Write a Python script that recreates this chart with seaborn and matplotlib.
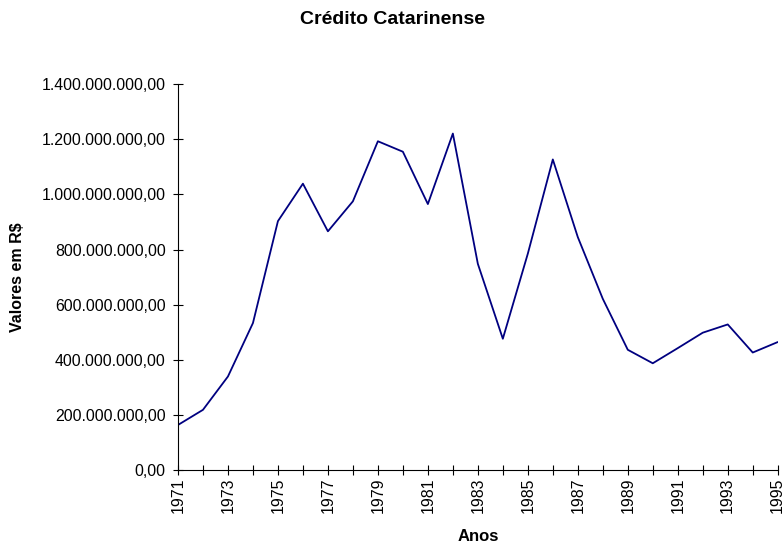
import matplotlib

matplotlib.use("Agg")
import matplotlib.pyplot as plt
import pandas
import seaborn as sns
from matplotlib.ticker import FuncFormatter, MultipleLocator
from pandas import DataFrame

years: list[int] = list(range(1971, 1996))
valores: list[float] = [
    163e6, 218e6, 339e6, 533e6, 903e6, 1039e6, 866e6, 975e6, 1193e6,
    1155e6, 965e6, 1221e6, 748e6, 476e6, 785e6, 1127e6, 845e6, 621e6,
    436e6, 387e6, 442e6, 498e6, 528e6, 426e6, 464e6,
]
year_labels: list[str] = [str(y) for y in range(1971, 1996, 2)]


def br_format(v: float, pos: int) -> str:
    # 1,400,000,000.00 -> 1.400.000.000,00
    s: str = f"{v:,.2f}"
    return s.replace(",", "X").replace(".", ",").replace("X", ".")


def plot(df: DataFrame) -> None:
    sns.set_style("ticks")
    plt.rcParams["font.family"] = ["Liberation Sans", "DejaVu Sans"]
    plt.rcParams["text.color"] = "black"
    plt.rcParams["axes.labelcolor"] = "black"

    fig = plt.figure(figsize=(7.84, 5.47), dpi=100)
    ax = fig.add_axes([0.227, 0.141, 0.765, 0.705])

    sns.lineplot(data=df, x="ano", y="valor", ax=ax, color="#000080", linewidth=1.3)

    ax.set_xlim(1971, 1995)
    ax.set_ylim(0, 1.4e9)
    ax.yaxis.set_major_locator(MultipleLocator(2e8))
    ax.yaxis.set_major_formatter(FuncFormatter(br_format))
    ax.set_xticks(years)
    ax.set_xticklabels([str(y) if str(y) in year_labels else "" for y in years], rotation=90)

    ax.tick_params(direction="inout", length=7.5, width=0.8, labelsize=11.4, colors="black")
    ax.tick_params(axis="y", pad=5)
    ax.tick_params(axis="x", pad=2)
    ax.spines["top"].set_visible(False)
    ax.spines["right"].set_visible(False)
    for s in ("left", "bottom"):
        ax.spines[s].set_color("black")
        ax.spines[s].set_linewidth(0.8)

    fig.text(0.5, 1 - 20 / 547, "Crédito Catarinense", ha="center", va="center",
             fontsize=14, fontweight="bold", color="black")
    ax.set_xlabel("Anos", fontsize=12, fontweight="bold")
    ax.set_ylabel("Valores em R$", fontsize=11.5, fontweight="bold")
    ax.xaxis.set_label_coords(0.5, -0.174)
    ax.yaxis.set_label_coords(-0.268, 0.5)
    ax.xaxis.label.set_va("center")
    ax.yaxis.label.set_va("center")

    fig.savefig("out.png", dpi=100)
    plt.close(fig)


def main() -> None:
    df: DataFrame = pandas.DataFrame({"ano": years, "valor": valores})
    plot(df=df)


if __name__ == "__main__":
    main()
